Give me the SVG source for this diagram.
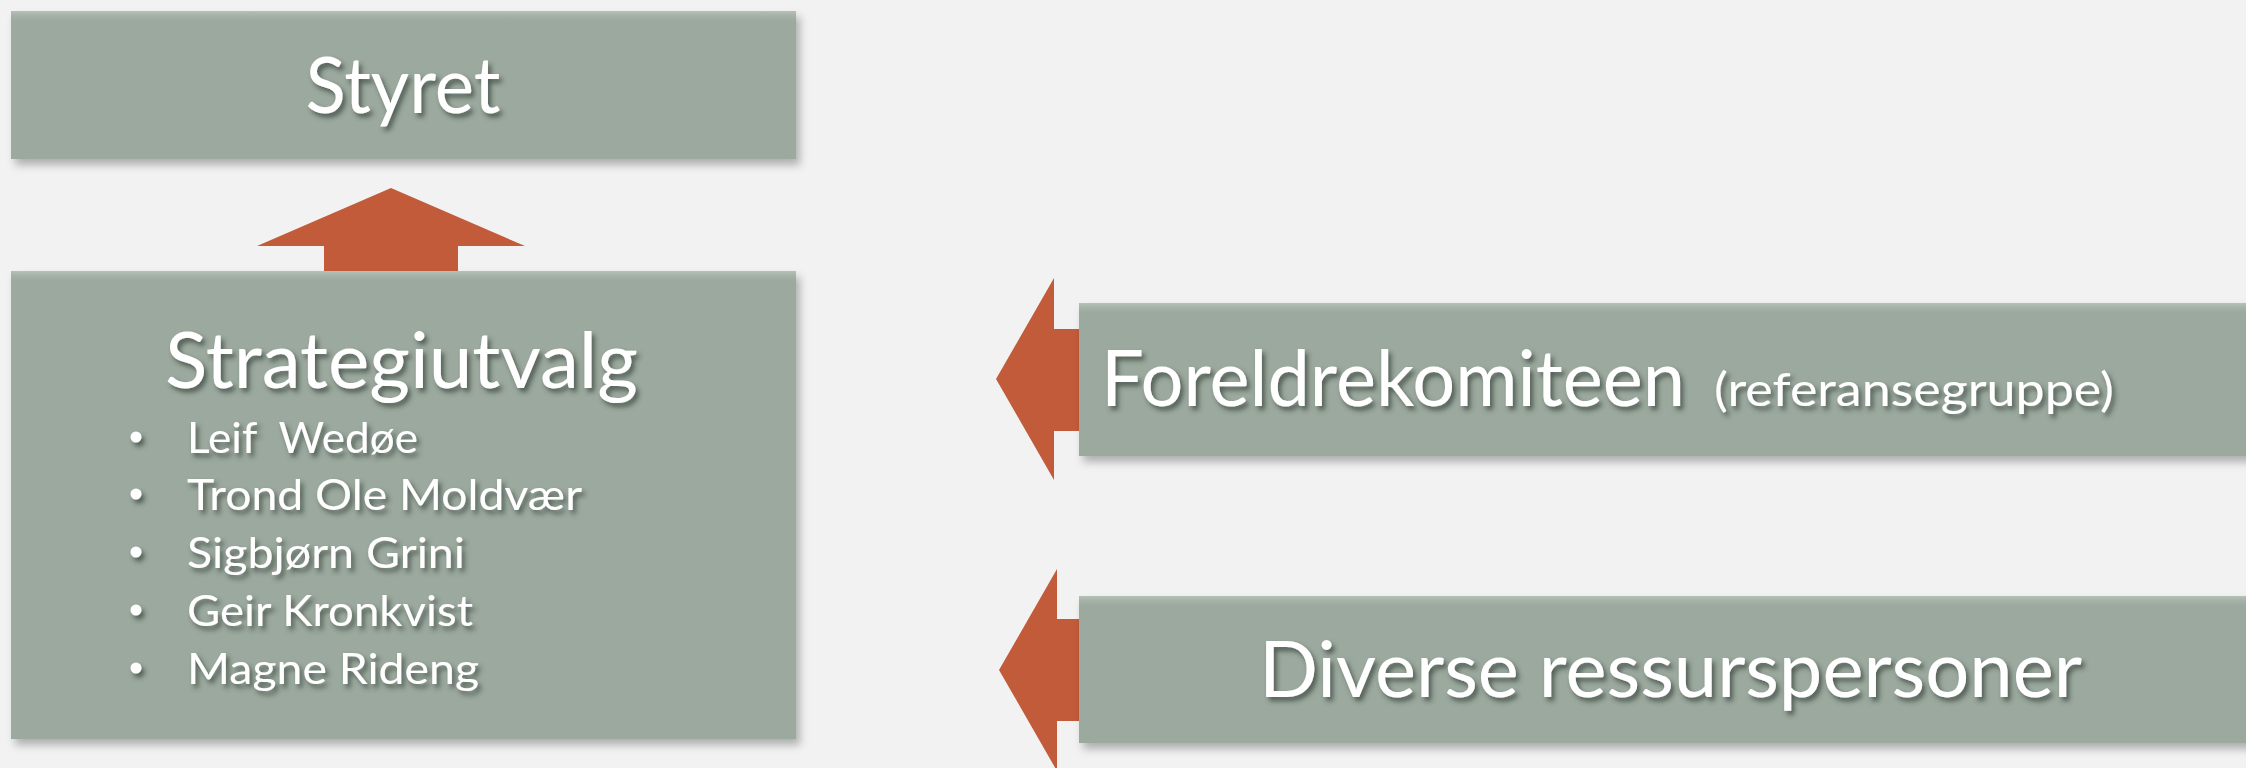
<svg xmlns="http://www.w3.org/2000/svg" width="2246" height="768" viewBox="0 0 2246 768">
<defs>
<style>
.box{fill:#9ca99e;}
.hl{fill:url(#topHl);}
.arrow{fill:#c25b3a;}
.t{font-family:Lato,"Open Sans","Liberation Sans",sans-serif;fill:#ffffff;}
</style>
<linearGradient id="topHl" x1="0" y1="0" x2="0" y2="1">
<stop offset="0" stop-color="#b6c2b8" stop-opacity="1"/>
<stop offset="1" stop-color="#9ca99e" stop-opacity="0"/>
</linearGradient>
<filter id="sh" x="-5%" y="-10%" width="115%" height="130%">
<feDropShadow dx="4" dy="6" stdDeviation="4" flood-color="#000" flood-opacity="0.28"/>
</filter>
<filter id="tsh" x="-5%" y="-20%" width="115%" height="150%">
<feDropShadow dx="3" dy="4" stdDeviation="2.5" flood-color="#2f3b33" flood-opacity="0.7"/>
</filter>
</defs>
<rect width="2246" height="768" fill="#f2f2f2"/>

<g id="connectors">
<polygon class="arrow" points="391,188 525,246 458,246 458,272 324,272 324,246 257,246"/>
<polygon class="arrow" points="996,379 1054,278 1054,329 1080,329 1080,431 1054,431 1054,480"/>
<polygon class="arrow" points="999,670 1057,569 1057,619 1080,619 1080,721 1057,721 1057,771"/>
</g>

<g id="styret">
<rect class="box" x="11" y="11" width="785" height="148" filter="url(#sh)"/>
<rect class="hl" x="11" y="11" width="785" height="12"/>
<text class="t" x="403" y="113" font-size="78" text-anchor="middle" textLength="195" lengthAdjust="spacingAndGlyphs" filter="url(#tsh)">Styret</text>
</g>

<g id="strategiutvalg">
<rect class="box" x="11" y="271" width="785" height="468" filter="url(#sh)"/>
<rect class="hl" x="11" y="271" width="785" height="12"/>
<g filter="url(#tsh)">
<text class="t" x="165" y="388" font-size="77" textLength="473" lengthAdjust="spacingAndGlyphs">Strategiutvalg</text>
<g font-size="42">
<circle cx="136" cy="437" r="5.5" fill="#fff"/>
<circle cx="136" cy="494" r="5.5" fill="#fff"/>
<circle cx="136" cy="552" r="5.5" fill="#fff"/>
<circle cx="136" cy="610" r="5.5" fill="#fff"/>
<circle cx="136" cy="668" r="5.5" fill="#fff"/>
<text class="t" x="187" y="453" xml:space="preserve" textLength="231" lengthAdjust="spacingAndGlyphs">Leif  Wedøe</text>
<text class="t" x="187" y="510" textLength="395" lengthAdjust="spacingAndGlyphs">Trond Ole Moldvær</text>
<text class="t" x="187" y="568" textLength="278" lengthAdjust="spacingAndGlyphs">Sigbjørn Grini</text>
<text class="t" x="187" y="626" textLength="286" lengthAdjust="spacingAndGlyphs">Geir Kronkvist</text>
<text class="t" x="187" y="684" textLength="292" lengthAdjust="spacingAndGlyphs">Magne Rideng</text>
</g>
</g>
</g>

<g id="foreldrekomiteen">
<rect class="box" x="1079" y="303" width="1180" height="153" filter="url(#sh)"/>
<rect class="hl" x="1079" y="303" width="1180" height="12"/>
<g filter="url(#tsh)">
<text class="t" x="1101" y="406" font-size="77" textLength="584" lengthAdjust="spacingAndGlyphs">Foreldrekomiteen</text>
<text class="t" x="1714" y="406" font-size="47" textLength="400" lengthAdjust="spacingAndGlyphs">(referansegruppe)</text>
</g>
</g>

<g id="diverse">
<rect class="box" x="1079" y="596" width="1180" height="147" filter="url(#sh)"/>
<rect class="hl" x="1079" y="596" width="1180" height="12"/>
<text class="t" x="1259" y="697" font-size="77" textLength="823" lengthAdjust="spacingAndGlyphs" filter="url(#tsh)">Diverse ressurspersoner</text>
</g>
</svg>
